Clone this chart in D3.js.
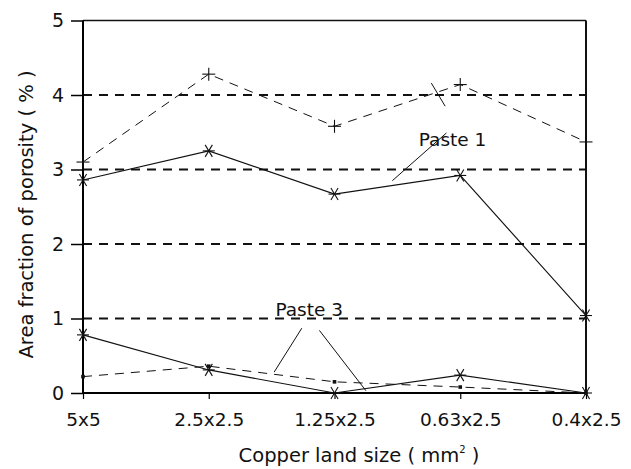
<!DOCTYPE html>
<html>
<head>
<meta charset="utf-8">
<script src="https://cdn.jsdelivr.net/npm/d3@7"></script>
<style>
  body { margin: 0; background: #fff; }
  svg text { font-family: "DejaVu Sans", sans-serif; fill: #111; }
</style>
</head>
<body>
<svg id="chart" width="631" height="469"></svg>
<script>
// categories along the x axis
var sizes = ["5x5", "2.5x2.5", "1.25x2.5", "0.63x2.5", "0.4x2.5"];
var yTicks = [0, 1, 2, 3, 4, 5];
var gridValues = [1, 2, 3, 4];

// series values (area fraction of porosity, %)
var paste1Solid = [2.86, 3.25, 2.67, 2.92, 1.04];
var paste1Dashed = [3.10, 4.28, 3.58, 4.14, 3.37];
var paste3Solid = [0.78, 0.31, 0.0, 0.24, 0.0];
var paste3Dashed = [0.22, 0.36, 0.15, 0.08, 0.0];

// annotation labels, placed in category-index / value units
var notes = [
    { text: "Paste 1", cat: 2.67, val: 3.31 },
    { text: "Paste 3", cat: 1.53, val: 1.04 }
];

// leader lines from the labels to the series
var leaders = [
    [[2.77, 4.16], [2.88, 3.85]],
    [[2.89, 3.49], [2.46, 2.85]],
    [[1.74, 0.87], [1.52, 0.28]],
    [[1.88, 0.84], [2.25, 0.03]]
];

var svg = d3.select("#chart");
var margin = {top: 20.5, right: 45, bottom: 76, left: 83};
var width = 631 - margin.left - margin.right;
var height = 469 - margin.top - margin.bottom;

var g = svg.append("g")
    .attr("transform", "translate(" + margin.left + "," + margin.top + ")");

var x = d3.scalePoint().domain(sizes).range([0, width]).padding(0);
var xi = d3.scaleLinear().domain([0, sizes.length - 1]).range([0, width]);
var y = d3.scaleLinear().domain([0, 5]).range([height, 0]);

// dashed horizontal gridlines
g.selectAll(".grid")
    .data(gridValues)
    .enter().append("line")
    .attr("x1", 0).attr("x2", width)
    .attr("y1", function(d) { return y(d); })
    .attr("y2", function(d) { return y(d); })
    .attr("stroke", "#111")
    .attr("stroke-width", 1.8)
    .attr("stroke-dasharray", "9,7");

// frame: top and right borders
g.append("line").attr("x1", 0).attr("x2", width).attr("y1", 0).attr("y2", 0)
    .attr("stroke", "#111").attr("stroke-width", 1.6);
g.append("line").attr("x1", width).attr("x2", width).attr("y1", 0).attr("y2", height)
    .attr("stroke", "#111").attr("stroke-width", 2);

// y axis
var yAxis = g.append("g")
    .call(d3.axisLeft(y).tickValues(yTicks).tickSize(12).tickPadding(7).tickFormat(d3.format("d")));
yAxis.select(".domain").attr("stroke-width", 2).attr("d", "M0," + height + "V0");
yAxis.selectAll(".tick line").attr("stroke-width", 1.5);
yAxis.selectAll("text").style("font-size", "19px").attr("fill", "#111");

// x axis
var xAxis = g.append("g")
    .attr("transform", "translate(0," + height + ")")
    .call(d3.axisBottom(x).tickSize(6).tickPadding(14));
xAxis.select(".domain").attr("stroke-width", 2).attr("d", "M0,0H" + width);
xAxis.selectAll(".tick line").attr("stroke-width", 1.2);
xAxis.selectAll("text").style("font-size", "18.5px").attr("fill", "#111");

var line = d3.line()
    .x(function(d, i) { return x(sizes[i]); })
    .y(function(d) { return y(d); });

function drawSeries(vals, dash, w) {
    g.append("path")
        .datum(vals)
        .attr("fill", "none")
        .attr("stroke", "#111")
        .attr("stroke-width", w)
        .attr("stroke-dasharray", dash)
        .attr("d", line);
}

drawSeries(paste1Dashed, "9,7", 1);
drawSeries(paste1Solid, null, 1.1);
drawSeries(paste3Dashed, "9,7", 1);
drawSeries(paste3Solid, null, 1.1);

// markers
function asterisk(vals) {
    var s = 6;
    var m = g.selectAll(null).data(vals).enter().append("g")
        .attr("transform", function(d, i) { return "translate(" + x(sizes[i]) + "," + y(d) + ")"; })
        .attr("stroke", "#111").attr("stroke-width", 1.1);
    m.append("line").attr("x1", -s).attr("x2", s).attr("y1", 0).attr("y2", 0);
    m.append("line").attr("x1", -s * 0.6).attr("x2", s * 0.6).attr("y1", -s).attr("y2", s);
    m.append("line").attr("x1", s * 0.6).attr("x2", -s * 0.6).attr("y1", -s).attr("y2", s);
}
function plus(vals) {
    var s = 6.5;
    var m = g.selectAll(null).data(vals).enter().append("g")
        .attr("transform", function(d, i) { return "translate(" + x(sizes[i]) + "," + y(d) + ")"; })
        .attr("stroke", "#111").attr("stroke-width", 1.1);
    m.append("line").attr("x1", -s).attr("x2", s).attr("y1", 0).attr("y2", 0);
    m.append("line").attr("x1", 0).attr("x2", 0).attr("y1", -s).attr("y2", s);
}
function squares(vals) {
    g.selectAll(null).data(vals).enter().append("rect")
        .attr("x", function(d, i) { return x(sizes[i]) - 1.8; })
        .attr("y", function(d) { return y(d) - 1.8; })
        .attr("width", 3.6).attr("height", 3.6)
        .attr("fill", "#111");
}

plus(paste1Dashed);
asterisk(paste1Solid);
squares(paste3Dashed);
asterisk(paste3Solid);

// annotations
notes.forEach(function(n) {
    g.append("text")
        .attr("x", xi(n.cat))
        .attr("y", y(n.val))
        .style("font-size", "18.5px")
        .text(n.text);
});

g.selectAll(".leader")
    .data(leaders)
    .enter().append("line")
    .attr("x1", function(d) { return xi(d[0][0]); })
    .attr("y1", function(d) { return y(d[0][1]); })
    .attr("x2", function(d) { return xi(d[1][0]); })
    .attr("y2", function(d) { return y(d[1][1]); })
    .attr("stroke", "#111")
    .attr("stroke-width", 1);

// axis titles
svg.append("text")
    .attr("x", 359)
    .attr("y", 462)
    .attr("text-anchor", "middle")
    .style("font-size", "19.5px")
    .html("Copper land size ( mm<tspan dy='-9' font-size='10px'>2</tspan><tspan dy='9'> )</tspan>");

svg.append("text")
    .attr("transform", "translate(33,214.5) rotate(-90)")
    .attr("text-anchor", "middle")
    .style("font-size", "19.5px")
    .text("Area fraction of porosity ( % )");
</script>
</body>
</html>
